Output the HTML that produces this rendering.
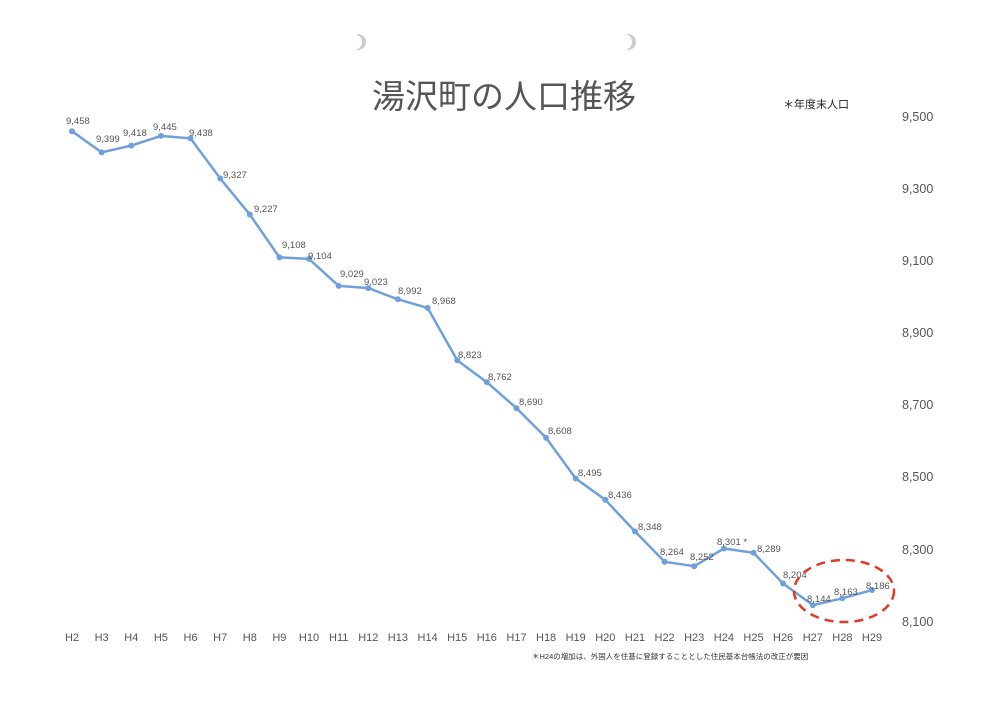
<!DOCTYPE html>
<html><head><meta charset="utf-8"><style>
html,body{margin:0;padding:0;background:#fff;}
svg{display:block;font-family:"Liberation Sans","Noto Sans CJK JP",sans-serif;}
</style></head><body>
<svg width="1000" height="703" viewBox="0 0 1000 703" xmlns="http://www.w3.org/2000/svg">
<rect width="1000" height="703" fill="#fff"/>
<circle cx="358" cy="42" r="8" fill="#ccc"/><circle cx="354" cy="42" r="8" fill="#fff"/>
<circle cx="628" cy="42" r="8" fill="#ccc"/><circle cx="624" cy="42" r="8" fill="#fff"/>
<text x="372" y="108" font-size="33" fill="#555">湯沢町の人口推移</text>
<text x="783" y="108" font-size="11" fill="#222">＊年度末人口</text>
<g font-size="12.5" fill="#555" text-anchor="start">
<text x="902" y="121">9,500</text><text x="902" y="193">9,300</text><text x="902" y="265">9,100</text>
<text x="902" y="337">8,900</text><text x="902" y="409">8,700</text><text x="902" y="481">8,500</text>
<text x="902" y="554">8,300</text><text x="902" y="626">8,100</text>
</g>
<polyline fill="none" stroke="#6fa0dc" stroke-width="2.5" stroke-linejoin="round" points="72,131.2 101.6,152.4 131.3,145.6 160.9,135.9 190.5,138.4 220.2,178.4 249.8,214.5 279.4,257.4 309,258.9 338.7,285.9 368.3,288.1 397.9,299.3 427.6,307.9 457.2,360.2 486.8,382.2 516.5,408.2 546.1,437.8 575.7,478.5 605.3,499.8 635,531.5 664.6,561.8 694.2,566.2 723.9,548.5 753.5,552.8 783.1,583.5 812.8,605.1 842.4,598.3 872,590"/>
<g fill="#6fa0dc">
<circle cx="72" cy="131.2" r="3"/><circle cx="101.6" cy="152.4" r="3"/><circle cx="131.3" cy="145.6" r="3"/><circle cx="160.9" cy="135.9" r="3"/><circle cx="190.5" cy="138.4" r="3"/><circle cx="220.2" cy="178.4" r="3"/><circle cx="249.8" cy="214.5" r="3"/><circle cx="279.4" cy="257.4" r="3"/><circle cx="309" cy="258.9" r="3"/><circle cx="338.7" cy="285.9" r="3"/><circle cx="368.3" cy="288.1" r="3"/><circle cx="397.9" cy="299.3" r="3"/><circle cx="427.6" cy="307.9" r="3"/><circle cx="457.2" cy="360.2" r="3"/><circle cx="486.8" cy="382.2" r="3"/><circle cx="516.5" cy="408.2" r="3"/><circle cx="546.1" cy="437.8" r="3"/><circle cx="575.7" cy="478.5" r="3"/><circle cx="605.3" cy="499.8" r="3"/><circle cx="635" cy="531.5" r="3"/><circle cx="664.6" cy="561.8" r="3"/><circle cx="694.2" cy="566.2" r="3"/><circle cx="723.9" cy="548.5" r="3"/><circle cx="753.5" cy="552.8" r="3"/><circle cx="783.1" cy="583.5" r="3"/><circle cx="812.8" cy="605.1" r="3"/><circle cx="842.4" cy="598.3" r="3"/><circle cx="872" cy="590" r="3"/>
</g>
<g font-size="9.5" fill="#555">
<text x="66" y="124">9,458</text><text x="96" y="142">9,399</text><text x="123" y="136">9,418</text><text x="153" y="130">9,445</text><text x="189" y="136">9,438</text><text x="223" y="178">9,327</text><text x="254" y="212">9,227</text><text x="282" y="248">9,108</text><text x="308" y="259">9,104</text><text x="340" y="277">9,029</text><text x="364" y="285">9,023</text><text x="398" y="294">8,992</text><text x="432" y="304">8,968</text><text x="458" y="358">8,823</text><text x="488" y="380">8,762</text><text x="519" y="405">8,690</text><text x="548" y="434">8,608</text><text x="578" y="476">8,495</text><text x="608" y="498">8,436</text><text x="638" y="530">8,348</text><text x="660" y="555">8,264</text><text x="690" y="560">8,252</text><text x="717" y="545">8,301 *</text><text x="757" y="552">8,289</text><text x="783" y="578">8,204</text><text x="807" y="602">8,144</text><text x="834" y="595">8,163</text><text x="866" y="589">8,186</text>
</g>
<g font-size="11" fill="#555" text-anchor="middle">
<text x="72" y="641">H2</text><text x="101.6" y="641">H3</text><text x="131.3" y="641">H4</text><text x="160.9" y="641">H5</text><text x="190.5" y="641">H6</text><text x="220.2" y="641">H7</text><text x="249.8" y="641">H8</text><text x="279.4" y="641">H9</text><text x="309" y="641">H10</text><text x="338.7" y="641">H11</text><text x="368.3" y="641">H12</text><text x="397.9" y="641">H13</text><text x="427.6" y="641">H14</text><text x="457.2" y="641">H15</text><text x="486.8" y="641">H16</text><text x="516.5" y="641">H17</text><text x="546.1" y="641">H18</text><text x="575.7" y="641">H19</text><text x="605.3" y="641">H20</text><text x="635" y="641">H21</text><text x="664.6" y="641">H22</text><text x="694.2" y="641">H23</text><text x="723.9" y="641">H24</text><text x="753.5" y="641">H25</text><text x="783.1" y="641">H26</text><text x="812.8" y="641">H27</text><text x="842.4" y="641">H28</text><text x="872" y="641">H29</text>
</g>
<text x="532" y="659" font-size="7.5" fill="#333">＊H24の増加は、外国人を住基に登録することとした住民基本台帳法の改正が要因</text>
<ellipse cx="844" cy="591" rx="50" ry="31" fill="none" stroke="#e03a2a" stroke-width="2.5" stroke-dasharray="9,6"/>
</svg>
</body></html>
